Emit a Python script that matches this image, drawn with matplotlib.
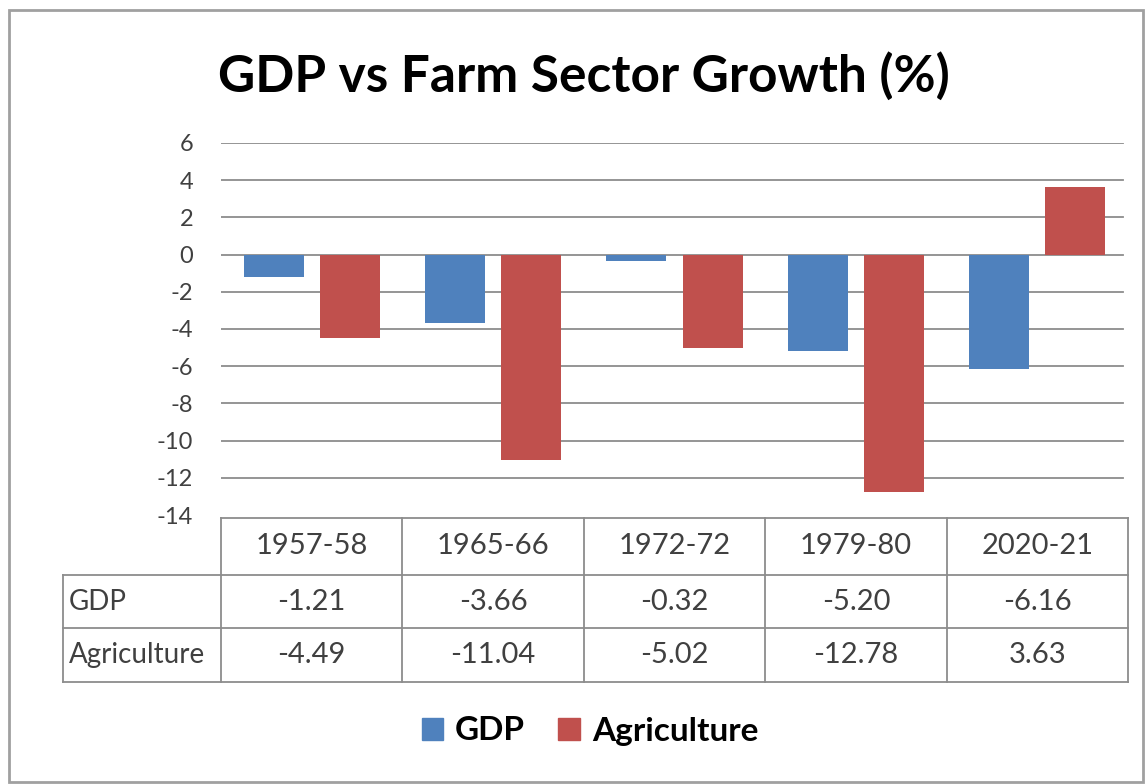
import matplotlib.pyplot as plt
from matplotlib.patches import Rectangle

categories = ["1957-58", "1965-66", "1972-72", "1979-80", "2020-21"]
gdp = [-1.21, -3.66, -0.32, -5.20, -6.16]
agriculture = [-4.49, -11.04, -5.02, -12.78, 3.63]
series_names = ["GDP", "Agriculture"]
yticks = [6, 4, 2, 0, -2, -4, -6, -8, -10, -12, -14]

BLUE = "#4F81BD"
RED = "#C0504D"
GRID = "#8C8C8C"
TABLE = "#8C8C8C"
TEXT = "#404040"

plt.rcParams["font.family"] = ["Lato", "DejaVu Sans"]

W, H = 1146, 784
fig = plt.figure(figsize=(W / 100, H / 100), dpi=100)
fig.patch.set_facecolor("white")

# outer chart border
fig.add_artist(Rectangle((9 / W, 2 / H), (1143 - 9) / W, (774 - 2) / H,
                         transform=fig.transFigure, fill=False,
                         edgecolor="#A0A0A0", lw=2.0))

fig.text(584 / W, 1 - 76 / H, "GDP vs Farm Sector Growth (%)", ha="center",
         va="center", fontsize=37, fontweight="bold", color="black")

left, right, top, bottom = 221, 1128, 143, 515
ax = fig.add_axes([left / W, 1 - bottom / H, (right - left) / W, (bottom - top) / H])
x = list(range(len(categories)))
width = 0.33
ax.bar([i - 0.21 for i in x], gdp, width, color=BLUE, zorder=3)
ax.bar([i + 0.21 for i in x], agriculture, width, color=RED, zorder=3)
ax.set_xlim(-0.5, len(categories) - 0.5)
ax.set_ylim(-14, 6)
ax.set_yticks(yticks)
ax.set_yticklabels([str(t) for t in yticks])
ax.tick_params(axis="y", length=0, labelsize=17, labelcolor=TEXT, pad=20)
ax.tick_params(axis="x", length=0, labelbottom=False)
for t in yticks[:-1]:
    ax.plot([-0.5, len(categories) - 0.53], [t, t], color=GRID, lw=1.3, zorder=1)
for s in ax.spines.values():
    s.set_visible(False)

# data table below the plot
tr = ax.get_xaxis_transform()
ax_h = bottom - top
y_hdr_top = -(518 - bottom) / ax_h
y_hdr_bot = -(575 - bottom) / ax_h
y_gdp_bot = -(628 - bottom) / ax_h
y_agr_bot = -(682 - bottom) / ax_h
x_left = -0.5 - (left - 63) / ((right - left) / len(categories))
x_end = len(categories) - 0.5

kw = dict(transform=tr, color=TABLE, lw=1.3, clip_on=False)
ax.plot([-0.5, x_end], [y_hdr_top, y_hdr_top], **kw)
for yy in (y_hdr_bot, y_gdp_bot, y_agr_bot):
    ax.plot([x_left, x_end], [yy, yy], **kw)
ax.plot([x_left, x_left], [y_hdr_bot, y_agr_bot], **kw)
for i in range(len(categories) + 1):
    ax.plot([i - 0.5, i - 0.5], [y_hdr_top, y_agr_bot], **kw)

cell_fs = 21
for i, cat in enumerate(categories):
    ax.text(i, (y_hdr_top + y_hdr_bot) / 2, cat, transform=tr, ha="center",
            va="center", fontsize=cell_fs, color=TEXT, clip_on=False)
    ax.text(i, (y_hdr_bot + y_gdp_bot) / 2, f"{gdp[i]:.2f}", transform=tr,
            ha="center", va="center", fontsize=cell_fs, color=TEXT, clip_on=False)
    ax.text(i, (y_gdp_bot + y_agr_bot) / 2, f"{agriculture[i]:.2f}", transform=tr,
            ha="center", va="center", fontsize=cell_fs, color=TEXT, clip_on=False)
for name, y0, y1 in [(series_names[0], y_hdr_bot, y_gdp_bot),
                     (series_names[1], y_gdp_bot, y_agr_bot)]:
    ax.text(x_left + 0.03, (y0 + y1) / 2, name, transform=tr, ha="left",
            va="center", fontsize=20, color=TEXT, clip_on=False)

# legend
fig.legend(handles=[Rectangle((0, 0), 1, 1, color=BLUE), Rectangle((0, 0), 1, 1, color=RED)],
           labels=series_names, loc="center", bbox_to_anchor=(590 / W, 1 - 731 / H),
           ncol=2, frameon=False, handlelength=0.65, handleheight=0.65,
           handletextpad=0.35, columnspacing=1.0,
           prop={"size": 24, "weight": "bold"})

fig.savefig("out.png", dpi=100)
